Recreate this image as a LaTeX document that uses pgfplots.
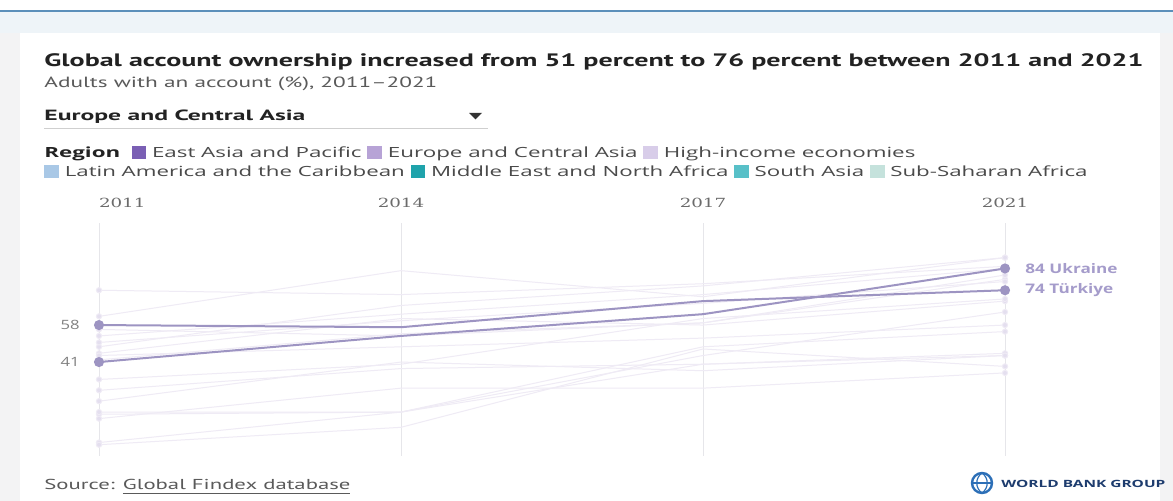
\documentclass[border=0pt]{standalone}
\usepackage{pgfplots}
\pgfplotsset{compat=1.18}
\usepackage{graphicx}
\usepackage{fontspec}
\setmainfont{Open Sans}
\newfontfamily\ptsans{PT Sans}
\newfontfamily\yearfont[FakeStretch=1.45]{DejaVu Serif}
\newfontfamily\labfont[FakeStretch=1.3]{Open Sans}
\definecolor{eap}{HTML}{7A5FB4}
\definecolor{eca}{HTML}{B7A3D6}
\definecolor{hie}{HTML}{D8CDE9}
\definecolor{lac}{HTML}{A9C8E6}
\definecolor{mena}{HTML}{1FA3AB}
\definecolor{sas}{HTML}{58C0C8}
\definecolor{ssa}{HTML}{C5E2DC}
\definecolor{faint}{HTML}{EFEBF5}
\definecolor{faintm}{HTML}{E4DFEF}
\definecolor{hl}{HTML}{9D94C2}
\definecolor{hllab}{HTML}{A59CCB}
\definecolor{gridc}{HTML}{E6E6EA}
\definecolor{bandc}{HTML}{EEF4F8}
\definecolor{topline}{HTML}{5B8FBA}
\definecolor{sidec}{HTML}{F3F3F4}
\definecolor{titc}{HTML}{222222}
\definecolor{subc}{HTML}{5A5A5A}
\definecolor{legc}{HTML}{4A4A4A}
\definecolor{triac}{HTML}{333333}
\definecolor{ulc}{HTML}{CFCFCF}
\definecolor{wbblue}{HTML}{2C6FB7}
\definecolor{wbdark}{HTML}{1D3C6E}
\newcommand{\fitw}[2]{\resizebox{#1}{\height}{#2}}
\newcommand{\sq}[1]{\textcolor{#1}{\rule[-0.3pt]{4.6pt}{6.4pt}}}
\pgfplotsset{
  fl/.style={color=faint, line width=0.5pt, mark=*, mark indices={1,4}, mark size=1.3pt, mark options={draw=none, fill=faintm}},
  hi/.style={color=hl, line width=1pt, mark=*, mark indices={1,4}, mark size=2pt, mark options={draw=none, fill=hl}},
}
\begin{document}
\begin{tikzpicture}
\begin{scope}[x=0.5pt,y=-0.5pt]
\path[use as bounding box] (0,0) rectangle (1173,501);
\fill[white] (0,0) rectangle (1173,501);
\fill[bandc] (0,12) rectangle (1173,33);
\fill[topline] (0,10) rectangle (1173,12.5);
\fill[sidec] (0,33) rectangle (20,501);
\fill[sidec] (1160,33) rectangle (1173,501);
\node[anchor=base west, inner sep=0] at (44,67) {\fitw{549.5pt}{\ptsans\fontsize{9pt}{10pt}\selectfont\bfseries\color{titc}Global account ownership increased from 51 percent to 76 percent between 2011 and 2021}};
\node[anchor=base west, inner sep=0] at (44,88) {\fitw{196.5pt}{\ptsans\fontsize{7.4pt}{9pt}\selectfont\color{subc}Adults with an account (\%), 2011–2021}};
\node[anchor=base west, inner sep=0] at (44,121) {\fitw{130.5pt}{\ptsans\fontsize{7.4pt}{9pt}\selectfont\bfseries\color{titc}Europe and Central Asia}};
\fill[triac] (469,113) -- (482,113) -- (475.5,119.5) -- cycle;
\draw[ulc, line width=0.6pt] (44,128.5) -- (488,128.5);
\node[anchor=base west, inner sep=0] at (44,158) {\fitw{435.5pt}{\fontsize{7pt}{9pt}\selectfont\color{legc}{\bfseries\color{titc}Region}\enspace\sq{eap} East Asia and Pacific \sq{eca} Europe and Central Asia \sq{hie} High-income economies}};
\node[anchor=base west, inner sep=0] at (44,177) {\fitw{521.5pt}{\fontsize{7pt}{9pt}\selectfont\color{legc}\sq{lac} Latin America and the Caribbean \sq{mena} Middle East and North Africa \sq{sas} South Asia \sq{ssa} Sub-Saharan Africa}};
\end{scope}
\begin{axis}[
  at={(49.5pt,-227.8pt)}, anchor=south west,
  scale only axis, width=453pt, height=116.4pt,
  xmin=0, xmax=3, ymin=-2, ymax=105,
  clip=false,
  axis line style={draw=none},
  ytick=\empty,
  xtick={0,1,2,3},
  xticklabels={\makebox[0pt][l]{2011},2014,2017,2021},
  xticklabel pos=upper,
  major tick length=0pt,
  xmajorgrids,
  grid style={color=gridc, line width=0.5pt},
  xticklabel style={anchor=base, yshift=7.5pt, font=\yearfont\fontsize{6.3pt}{7pt}\selectfont, text=black!58},
]
% Europe and Central Asia economies (faint)
\addplot[fl] coordinates {(0,74) (1,72) (2,77) (3,85)};
\addplot[fl] coordinates {(0,62) (1,83) (2,71) (3,89)};
\addplot[fl] coordinates {(0,48) (1,67) (2,76) (3,89)};
\addplot[fl] coordinates {(0,53) (1,63) (2,72) (3,84)};
\addplot[fl] coordinates {(0,56) (1,53) (2,59) (3,79)};
\addplot[fl] coordinates {(0,50) (1,60) (2,68) (3,78)};
\addplot[fl] coordinates {(0,42) (1,54) (2,59) (3,81)};
\addplot[fl] coordinates {(0,45) (1,61) (2,58) (3,69)};
\addplot[fl] coordinates {(0,33) (1,40) (2,61) (3,70)};
\addplot[fl] coordinates {(0,44) (1,48) (2,52) (3,58)};
\addplot[fl] coordinates {(0,28) (1,38) (2,40) (3,44)};
\addplot[fl] coordinates {(0,17) (1,18) (2,48) (3,55)};
\addplot[fl] coordinates {(0,15) (1,29) (2,29) (3,36)};
\addplot[fl] coordinates {(0,18) (1,18) (2,44) (3,64)};
\addplot[fl] coordinates {(0,4) (1,18) (2,40) (3,45)};
\addplot[fl] coordinates {(0,3) (1,11) (2,47) (3,39)};
\addplot[fl] coordinates {(0,23) (1,41) (2,37) (3,44)};
% highlighted
\addplot[hi] coordinates {(0,41) (1,53) (2,63) (3,84)};
\addplot[hi] coordinates {(0,58) (1,57) (2,69) (3,74)};
\node[anchor=west, inner sep=0, xshift=10pt, font=\labfont\fontsize{6.6pt}{7pt}\selectfont\bfseries, text=hllab] at (axis cs:3,84) {84 Ukraine};
\node[anchor=west, inner sep=0, xshift=10pt, font=\labfont\fontsize{6.6pt}{7pt}\selectfont\bfseries, text=hllab] at (axis cs:3,74) {74 Türkiye};
\node[anchor=east, inner sep=0, xshift=-9.5pt, font=\labfont\fontsize{6.4pt}{7pt}\selectfont, text=black!50] at (axis cs:0,58) {58};
\node[anchor=east, inner sep=0, xshift=-9.5pt, font=\labfont\fontsize{6.4pt}{7pt}\selectfont, text=black!50] at (axis cs:0,41) {41};
\end{axis}
\begin{scope}[x=0.5pt,y=-0.5pt]
\node[anchor=base west, inner sep=0] at (44,490) {\fitw{153pt}{\ptsans\fontsize{7.2pt}{9pt}\selectfont\color{subc}Source: \underline{Global Findex database}}};
\draw[wbblue, line width=1.2pt] (982,483) circle (10);
\draw[wbblue, line width=0.6pt] (982,473) .. controls (975,478) and (975,488) .. (982,493);
\draw[wbblue, line width=0.6pt] (982,473) .. controls (989,478) and (989,488) .. (982,493);
\draw[wbblue, line width=0.6pt] (972,483) -- (992,483);
\node[anchor=base west, inner sep=0] at (1001,487.5) {\fitw{82pt}{\fontsize{5pt}{6pt}\selectfont\bfseries\color{wbdark}WORLD BANK GROUP}};
\end{scope}
\end{tikzpicture}
\end{document}
